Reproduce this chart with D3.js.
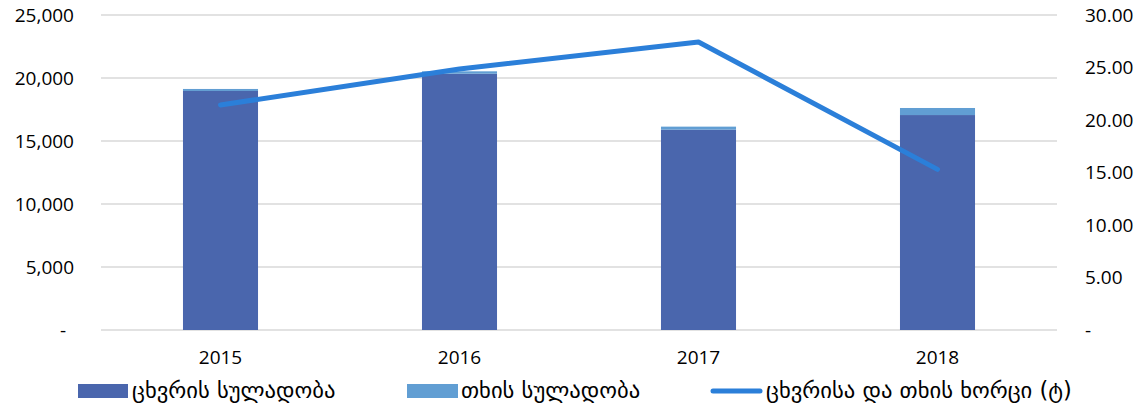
<!DOCTYPE html>
<html lang="ka">
<head>
<meta charset="utf-8">
<title>ცხვრის სულადობა</title>
<script src="https://cdn.jsdelivr.net/npm/d3@7"></script>
<style>
body { margin: 0; background: #fff; }
.tick text { font-family: "Open Sans", "Liberation Sans", sans-serif; font-size: 19px; fill: #000; }
.legend text { font-family: "DejaVu Sans", sans-serif; font-size: 22.6px; fill: #000; }
</style>
</head>
<body>
<script>
// chart data
var years = ["2015", "2016", "2017", "2018"];
var sheep = [18970, 20340, 15900, 17060];      // ცხვრის სულადობა
var goats = [160, 190, 240, 560];              // თხის სულადობა
var meat = [21.43, 24.86, 27.43, 15.30];       // ცხვრისა და თხის ხორცი
var leftTicks = [0, 5000, 10000, 15000, 20000, 25000];
var rightTicks = [0, 5, 10, 15, 20, 25, 30];
var seriesNames = ["ცხვრის სულადობა", "თხის სულადობა", "ცხვრისა და თხის ხორცი (ტ)"];

var w = 1148, h = 410;
// plot box (window.top is reserved, so name them differently)
var plotL = 101, plotR = 1057, plotT = 15, plotB = 330;
var darkBlue = "#4a66ad", lightBlue = "#619ed3", lineBlue = "#2b7fd9";

var svg = d3.select("body").append("svg")
	.attr("width", w)
	.attr("height", h);

var x = d3.scaleBand()
	.domain(years)
	.range([plotL, plotR])
	.paddingInner(0.686)
	.paddingOuter(0.343);

var yL = d3.scaleLinear().domain([0, 25000]).range([plotB, plotT]);
var yR = d3.scaleLinear().domain([0, 30]).range([plotB, plotT]);

// gridlines
svg.append("g")
	.selectAll("line")
	.data(leftTicks)
	.enter()
	.append("line")
	.attr("x1", plotL)
	.attr("x2", plotR)
	.attr("y1", function(d) { return yL(d); })
	.attr("y2", function(d) { return yL(d); })
	.style("stroke", "#d9d9d9")
	.style("stroke-width", 1.4);

// axes
var axisL = svg.append("g")
	.attr("transform", "translate(" + (plotL - 27) + ",0)")
	.call(d3.axisLeft(yL).tickValues(leftTicks).tickSize(0).tickPadding(0)
		.tickFormat(function(d) { return d === 0 ? "-" : d3.format(",")(d); }));
axisL.select(".domain").remove();
axisL.selectAll(".tick text").filter(function(d) { return d === 0; }).attr("dx", -8);

var axisR = svg.append("g")
	.attr("transform", "translate(" + (plotR + 28) + ",0)")
	.call(d3.axisRight(yR).tickValues(rightTicks).tickSize(0).tickPadding(0)
		.tickFormat(function(d) { return d === 0 ? "-" : d3.format(".2f")(d); }));
axisR.select(".domain").remove();

var axisX = svg.append("g")
	.attr("transform", "translate(0," + plotB + ")")
	.call(d3.axisBottom(x).tickSize(0).tickPadding(21));
axisX.select(".domain").remove();

// stacked bars
var bars = svg.append("g");
bars.selectAll("rect.sheep")
	.data(years)
	.enter()
	.append("rect")
	.attr("class", "sheep")
	.attr("x", function(d) { return x(d); })
	.attr("width", x.bandwidth())
	.attr("y", function(d, i) { return yL(sheep[i]); })
	.attr("height", function(d, i) { return yL(0) - yL(sheep[i]); })
	.style("fill", darkBlue);

bars.selectAll("rect.goat")
	.data(years)
	.enter()
	.append("rect")
	.attr("class", "goat")
	.attr("x", function(d) { return x(d); })
	.attr("width", x.bandwidth())
	.attr("y", function(d, i) { return yL(sheep[i] + goats[i]); })
	.attr("height", function(d, i) { return yL(sheep[i]) - yL(sheep[i] + goats[i]); })
	.style("fill", lightBlue);

// meat line on right axis
var line = d3.line()
	.x(function(d, i) { return x(years[i]) + x.bandwidth() / 2; })
	.y(function(d) { return yR(d); });

svg.append("path")
	.datum(meat)
	.attr("d", line)
	.style("fill", "none")
	.style("stroke", lineBlue)
	.style("stroke-width", 5)
	.style("stroke-linecap", "round")
	.style("stroke-linejoin", "round");

// legend
var legend = svg.append("g").attr("class", "legend");
var legX = [78, 407, 710];

legend.append("rect").attr("x", legX[0]).attr("y", 384).attr("width", 50).attr("height", 14).style("fill", darkBlue);
legend.append("rect").attr("x", legX[1]).attr("y", 384).attr("width", 51).attr("height", 14).style("fill", lightBlue);
legend.append("line").attr("x1", legX[2] + 3).attr("x2", legX[2] + 50).attr("y1", 391).attr("y2", 391)
	.style("stroke", lineBlue).style("stroke-width", 5).style("stroke-linecap", "round");

legend.selectAll("text")
	.data(seriesNames)
	.enter()
	.append("text")
	.attr("x", function(d, i) { return legX[i] + (i === 2 ? 56 : 54); })
	.attr("y", 398)
	.text(function(d) { return d; });

</script>
</body>
</html>
